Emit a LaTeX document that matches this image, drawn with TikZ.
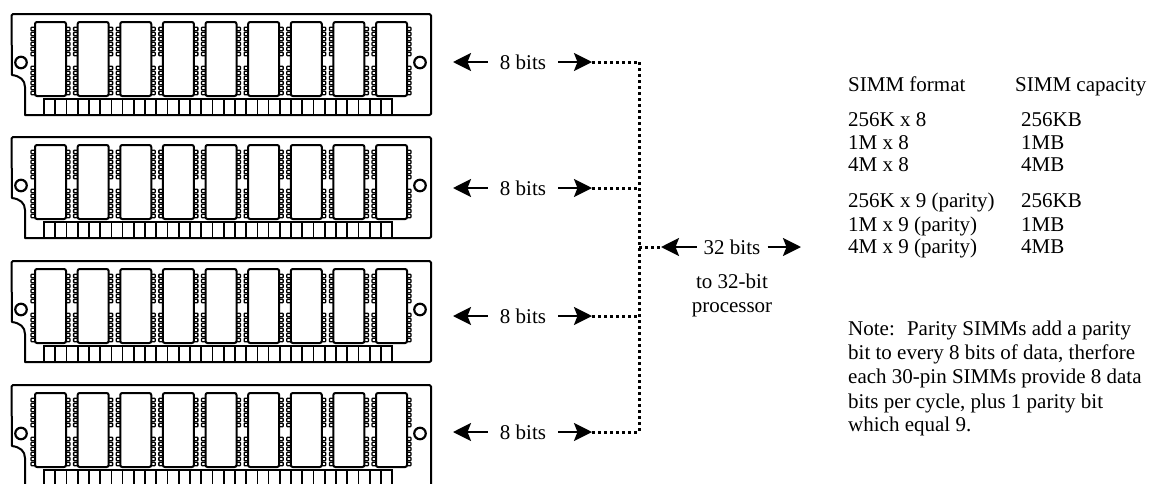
\documentclass[tikz,border=0pt]{standalone}
\usepackage{fontspec}
\setmainfont{Liberation Serif}
\usetikzlibrary{arrows.meta}
\tikzset{
  board/.style={line width=2pt,line join=round},
  chip/.style={line width=2pt,rounded corners=2pt,fill=white},
  lead/.style={line width=1.3pt,rounded corners=0.8pt,fill=white},
  pin/.style={line width=1.7pt,fill=white},
  hole/.style={line width=2.2pt,circle,draw,inner sep=0pt,minimum size=11.5pt},
  txt/.style={font=\fontsize{21}{24}\selectfont,inner sep=0pt,anchor=base west},
  bits/.style={font=\fontsize{21}{24}\selectfont,inner ysep=0pt,anchor=base},
  bus/.style={line width=2.4pt,-{Stealth[length=18pt,width=18pt,inset=3.5pt]}},
  dots/.style={line width=3pt,dash pattern=on 3pt off 3pt},
  simm/.pic={
    \draw[board] (13,0) -- (429.5,0) -- (431,1.5) -- (431,100) -- (429.5,101)
      -- (25,101) -- (25,73) .. controls (25,66) and (20,62) .. (12,61) -- (11.5,1.5) -- cycle;
    \node[hole] at (21,48.5) {};
    \node[hole] at (420,48.5) {};
    \foreach \c in {0,...,8} {
      \begin{scope}[xshift=\c*42.63pt]
        \foreach \l in {15,20,25,30,35,40,54,59,64,69,74,79} {
          \draw[lead] (31,\l-1.8) rectangle (36,\l+1.8);
          \draw[lead] (65,\l-1.8) rectangle (70,\l+1.8);
        }
        \draw[chip] (35,8) rectangle (66,82);
      \end{scope}
    }
    \foreach \p in {0,...,30} {
      \draw[pin] (44+\p*11.23,85) rectangle (44+\p*11.23+11.23,101);
    }
  }
}
\begin{document}
\begin{tikzpicture}[x=1pt,y=-1pt]
\clip (0,0) rectangle (1149,483);
\pic at (0,14) {simm};
\pic at (0,137) {simm};
\pic at (0,261) {simm};
\pic at (0,385) {simm};

\coordinate (j1) at (639,62);
\coordinate (j2) at (639,188);
\coordinate (j3) at (639,316);
\coordinate (j4) at (639,432);
\coordinate (j0) at (639,247);
\foreach \n/\y in {1/62,2/188,3/316,4/432} {
  \coordinate (l\n) at (453,\y);
  \coordinate (r\n) at (592,\y);
  \node[bits,inner xsep=12pt] (b\n) at (523,\y+7) {8 bits};
  \draw[bus] (b\n.west |- l\n) -- (l\n);
  \draw[bus] (b\n.east |- r\n) -- (r\n);
  \draw[dots] (r\n) -- (j\n);
}
\draw[dots] (j1) -- (j4);
\coordinate (l0) at (661,247);
\coordinate (r0) at (801,247);
\node[bits,inner xsep=7pt] (b0) at (732,254) {32 bits};
\draw[bus] (b0.west |- l0) -- (l0);
\draw[bus] (b0.east |- r0) -- (r0);
\draw[dots] (j0) -- (l0);
\node[bits] (p1) at (732,288) {to 32-bit};
\node[bits] (p2) at (732,312) {processor};

\node[txt] (h1) at (848,91) {SIMM format};
\node[txt] (h2) at (1015,91) {SIMM capacity};
\node[txt] (a1) at (848,126) {256K x 8};
\node[txt] (a2) at (848,149) {1M x 8};
\node[txt] (a3) at (848,171) {4M x 8};
\node[txt] (a4) at (848,207) {256K x 9 (parity)};
\node[txt] (a5) at (848,231) {1M x 9 (parity)};
\node[txt] (a6) at (848,253) {4M x 9 (parity)};
\node[txt] (c1) at (1021,126) {256KB};
\node[txt] (c2) at (1021,149) {1MB};
\node[txt] (c3) at (1021,171) {4MB};
\node[txt] (c4) at (1021,207) {256KB};
\node[txt] (c5) at (1021,231) {1MB};
\node[txt] (c6) at (1021,253) {4MB};
\node[txt] (n1) at (848,335) {Note:\hspace{5.2pt} Parity SIMMs add a parity};
\node[txt] (n2) at (848,359) {bit to every 8 bits of data, therfore};
\node[txt] (n3) at (848,383) {each 30-pin SIMMs provide 8 data};
\node[txt] (n4) at (848,408) {bits per cycle, plus 1 parity bit};
\node[txt] (n5) at (848,431) {which equal 9.};
\end{tikzpicture}
\end{document}
